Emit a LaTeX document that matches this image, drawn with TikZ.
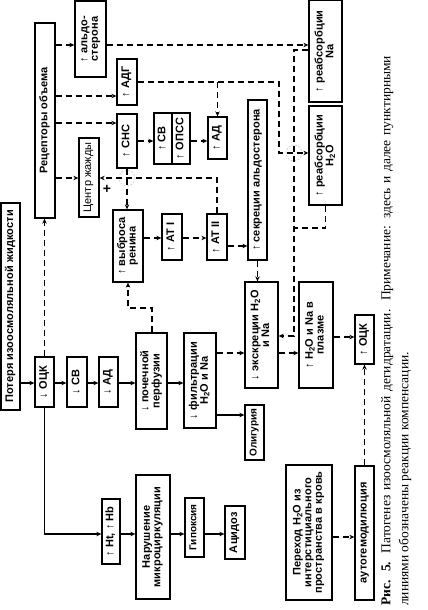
\documentclass[tikz,border=0pt]{standalone}
\usepackage{fontspec}
\usepackage{graphicx}
\setmainfont{Liberation Sans}
\newfontfamily\capfont{Liberation Serif}
\usetikzlibrary{arrows.meta}
\newcommand{\rt}[1]{\rotatebox{90}{\renewcommand{\arraystretch}{0.88}\begin{tabular}{@{}c@{}}#1\end{tabular}}}
\newcommand{\bx}[6]{\node[box, minimum width={(#4)-(#2)}, minimum height={(#5)-(#3)}] (#1) at ({((#2)+(#4))/2},{((#3)+(#5))/2}) {\rt{#6}};}
\newcommand{\HO}{H\textsubscript{2}O}
\tikzset{
  box/.style={draw, line width=1.3pt, inner sep=0pt, font=\fontsize{11}{12}\selectfont\bfseries\addfontfeature{LetterSpace=1}},
  small/.style={font=\fontsize{10}{11}\selectfont\bfseries},
  sol/.style={line width=1.4pt, -{Stealth[length=5pt,width=4.5pt]}},
  dsh/.style={line width=1.4pt, dash pattern=on 6pt off 4pt, -{Stealth[length=5pt,width=4.5pt]}},
  dshn/.style={line width=1.4pt, dash pattern=on 6pt off 4pt},
  jump/.style={draw=black!25, line width=0.5pt, dash pattern=on 2pt off 1.5pt},
}
\begin{document}
\begin{tikzpicture}[x=1pt,y=-1pt]
\useasboundingbox (0,0) rectangle (428,610);
% boxes
\bx{pot}{1}{203}{20}{410}{Потеря изоосмоляльной жидкости}
\bx{ock1}{35}{357}{54}{407}{↓ ОЦК}
\bx{sv1}{67}{357}{87}{407}{↓ СВ}
\bx{ad1}{99}{357}{118}{407}{↓ АД}
\bx{perf}{136}{333}{167}{429}{↓ почечной\\перфузии}
\bx{filt}{184}{333}{216}{428}{↓ фильтрации\\\HO{} и Na}
\node[box, small, minimum width=19, minimum height=55] (olig) at (254.5,432.5) {\rt{Олигурия}};
\bx{ren}{113}{210}{143}{282}{↑ выброса\\ренина}
\bx{at1}{162}{214}{182}{260}{↑ AT I}
\bx{at2}{207}{214}{227}{260}{↑ AT II}
\bx{sec}{248}{100}{267}{260}{↑ секреции альдостерона}
\bx{exc}{245}{282}{278}{388}{↓ экскреции \HO\\и Na}
\bx{plasma}{299}{282}{333}{388}{↑ \HO{} и Na в\\плазме}
\bx{ock2}{355}{315}{374}{364}{↑ ОЦК}
\bx{reabsNa}{309}{0.7}{342}{102}{↑ реабсорбции\\Na}
\bx{reabsHO}{309}{106}{342}{205}{↑ реабсорбции\\\HO}
\bx{rec}{35}{23}{55}{218}{Рецепторы объема}
\bx{ald}{75}{1}{106}{77}{↑ альдо-\\стерона}
\bx{adg}{117}{59}{137}{105}{↑ АДГ}
\bx{sns}{117}{114}{137}{168}{↑ СНС}
\bx{sv2}{154}{113}{172}{164}{↑ СВ}
\bx{opss}{172}{113}{190}{164}{↑ ОПСС}
\bx{ad2}{208}{117}{227}{159}{↑ АД}
\node[box, font=\fontsize{11}{12}\selectfont, minimum width=20, minimum height=79] (thirst) at (89,177.5) {\rt{Центр жажды}};
\bx{ht}{102}{499}{120}{564}{↑ Ht, ↑ Hb}
\bx{micro}{136}{475}{170}{599}{Нарушение\\микроциркуляции}
\node[box, small, minimum width=19, minimum height=59] (hyp) at (194.5,527.5) {\rt{Гипоксия}};
\bx{acid}{225}{506}{245}{559}{Ацидоз}
\bx{trans}{286}{465}{332}{600}{Переход \HO{} из\\интерстициального\\пространства в кровь}
\bx{auto}{355}{466}{374}{600}{аутогемодилюция}
\node[font=\bfseries\fontsize{14}{14}\selectfont, inner sep=0pt] (plus) at (107,189) {+};
% bend coordinates
\coordinate (adgb) at (279,82);
\coordinate (nb1) at (294,50);
\coordinate (nb2) at (294,336);
\coordinate (perfb) at (152,308);
% jump circles
\draw[jump] (127,178) circle (8);
\draw[jump] (294,153) circle (8);
% solid connectors
\draw[sol] (pot.east |- 0,383) -- (ock1.west |- 0,383);
\draw[sol] (ock1.east |- 0,383) -- (sv1.west |- 0,383);
\draw[sol] (sv1.east |- 0,383) -- (ad1.west |- 0,383);
\draw[sol] (ad1.east |- 0,383) -- (perf.west |- 0,383);
\draw[sol] (perf.east |- 0,383) -- (filt.west |- 0,383);
\draw[sol] (filt.east |- 0,415) -- (olig.west |- 0,415);
\draw[sol] (ock1.south) -- (ock1.south |- 0,534) -- (ht.west |- 0,534);
\draw[sol] (ht.east |- 0,534) -- (micro.west |- 0,534);
\draw[sol] (micro.east |- 0,534) -- (hyp.west |- 0,534);
\draw[sol] (hyp.east |- 0,534) -- (acid.west |- 0,534);
% dashed connectors
\draw[dsh] (ock1.north) -- (ock1.north |- rec.south);
\draw[dsh] (perf.north -| perfb) -- (perfb) -| (ren.south);
\draw[dsh] (sns.south) -- (sns.south |- ren.north);
\draw[dsh] (at2.north) |- (thirst.east |- 0,178);
\draw[dsh] (rec.east |- 0,45) -- (ald.west |- 0,45);
\draw[dsh] (rec.east |- 0,96) -- (adg.west |- 0,96);
\draw[dsh] (rec.east |- 0,123) -- (sns.west |- 0,123);
\draw[dsh] (rec.east |- 0,178) -- (thirst.west |- 0,178);
\draw[dsh] (ald.east |- 0,45) -- (reabsNa.west |- 0,45);
\draw[dsh] (adg.east |- adgb) -- (adgb) |- (reabsHO.west |- 0,153);
\draw[dsh] (ad2.north |- adgb) -- (ad2.north);
\draw[dsh] (sns.east |- 0,141) -- (sv2.west |- 0,141);
\draw[dsh] (opss.east |- 0,141) -- (ad2.west |- 0,141);
\draw[dsh] (reabsNa.west |- nb1) -- (nb1) -- (nb2) -- (exc.east |- nb2);
\draw[dshn] (reabsHO.south) |- (nb1 |- 0,228);
\draw[dsh] (ren.east |- 0,238) -- (at1.west |- 0,238);
\draw[dsh] (at1.east |- 0,238) -- (at2.west |- 0,238);
\draw[dsh] (at2.east |- 0,246) -- (sec.west |- 0,246);
\draw[dsh] (sec.south) -- (sec.south |- exc.north);
\draw[dsh] (filt.east |- 0,353) -- (exc.west |- 0,353);
\draw[dsh] (exc.east |- 0,353) -- (plasma.west |- 0,353);
\draw[dsh] (plasma.east |- 0,337) -- (ock2.west |- 0,337);
\draw[dsh] (trans.east |- 0,537) -- (auto.west |- 0,537);
\draw[dsh] (auto.north) -- (auto.north |- ock2.south);
% caption
\node[rotate=90, anchor=north west, inner sep=0pt, text width=550pt, align=justify,
      font=\capfont\fontsize{13.5}{18}\selectfont] (cap) at (381,606)
  {\textbf{Рис. 5.} Патогенез изоосмоляльной дегидратации. Примечание: здесь и далее пунктирными\linebreak линиями обозначены реакции компенсации.};
\end{tikzpicture}
\end{document}
